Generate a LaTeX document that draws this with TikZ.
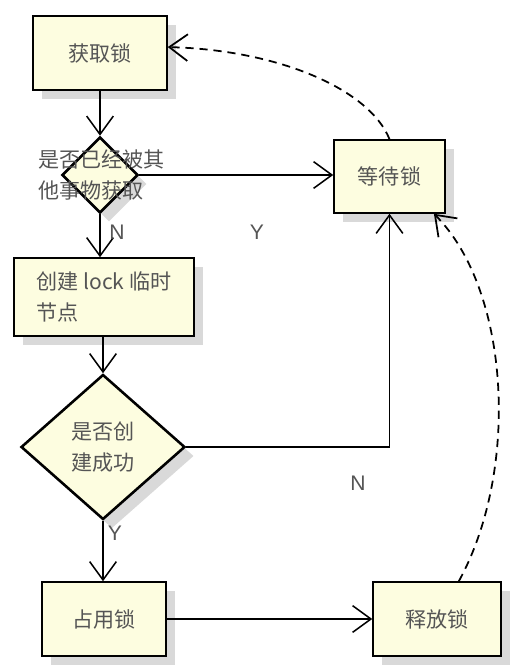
\documentclass[tikz,border=0pt]{standalone}
\usepackage{fontspec}
\setmainfont{Liberation Sans}
\newfontfamily\cjk{Noto Sans CJK SC}
\usepackage{tikz}
\usetikzlibrary{arrows.meta, positioning, shapes.geometric, shadows}
\definecolor{boxfill}{HTML}{FDFDE0}
\definecolor{textgray}{HTML}{555555}
\tikzset{>=Latex}

\begin{document}
\begin{tikzpicture}[x=0.03cm, y=-0.03cm,
        flow/.style={->, >={Straight Barb[length=5.5mm, width=8mm]}, line width=1.3pt},
        waitline/.style={flow, line width=1.5pt, dash pattern=on 7pt off 5pt},
        box/.style={draw, line width=1.3pt, fill=boxfill, text=textgray, inner sep=0pt,
            font=\cjk\fontsize{18}{27}\selectfont, align=left,
            drop shadow={shadow xshift=0.27cm, shadow yshift=-0.27cm, fill=black!15, opacity=1}},
        check/.style={box, diamond, line width=2.2pt, align=center},
        yn/.style={text=textgray, font=\fontsize{18}{22}\selectfont}]

            % Rahmen wie im Bild
            \useasboundingbox (0,0) rectangle (528,671);

            % Kaesten
            \node[box, minimum width=4.02cm, minimum height=2.22cm] (get) at (100,53) {获取锁};
            \node[box, minimum width=3.33cm, minimum height=2.19cm] (wait) at (389.5,176.5) {等待锁};
            \node[box, minimum width=5.4cm, minimum height=2.34cm] (create) at (104,297) {创建 lock 临时\\节点};
            \node[box, minimum width=3.72cm, minimum height=2.22cm] (hold) at (104,619) {占用锁};
            \node[box, minimum width=3.84cm, minimum height=2.22cm] (release) at (437,619) {释放锁};

            % Entscheidungen
            \node[check, minimum width=2.28cm, minimum height=2.28cm] (chk1) at (100,175) {};
            \node[text=textgray, font=\cjk\fontsize{18}{27}\selectfont, align=left, anchor=west, inner sep=0pt]
                (chk1txt) at (38,175) {是否已经被其\\他事物获取};
            \node[check, minimum width=4.92cm, minimum height=4.35cm] (chk2) at (103,447) {是否创\\建成功};

            % Pfeile
            \draw[flow] (get) -- (chk1);
            \draw[flow] (chk1.east) -- (chk1.east -| wait.west);
            \draw[flow] (chk1.south) -- (chk1.south |- create.north);
            \draw[flow] (create.south -| chk2.north) -- (chk2.north);
            \draw[flow] (chk2.east) -| (wait.south);
            \draw[flow] (chk2.south) -- (chk2.south |- hold.north);
            \draw[flow] (hold.east) -- (hold.east -| release.west);

            % gestrichelte Rueckwege
            \draw[waitline] (wait.north) .. controls (370,90) and (280,50) .. (get.5);
            \draw[waitline] (release.60) .. controls (520,470) and (510,290) .. (wait.-40);

            % Beschriftung Y/N
            \node[yn] (no1) at (117,232) {N};
            \node[yn] (yes1) at (257,232) {Y};
            \node[yn] (no2) at (358,483) {N};
            \node[yn] (yes2) at (115,533) {Y};

\end{tikzpicture}
\end{document}
